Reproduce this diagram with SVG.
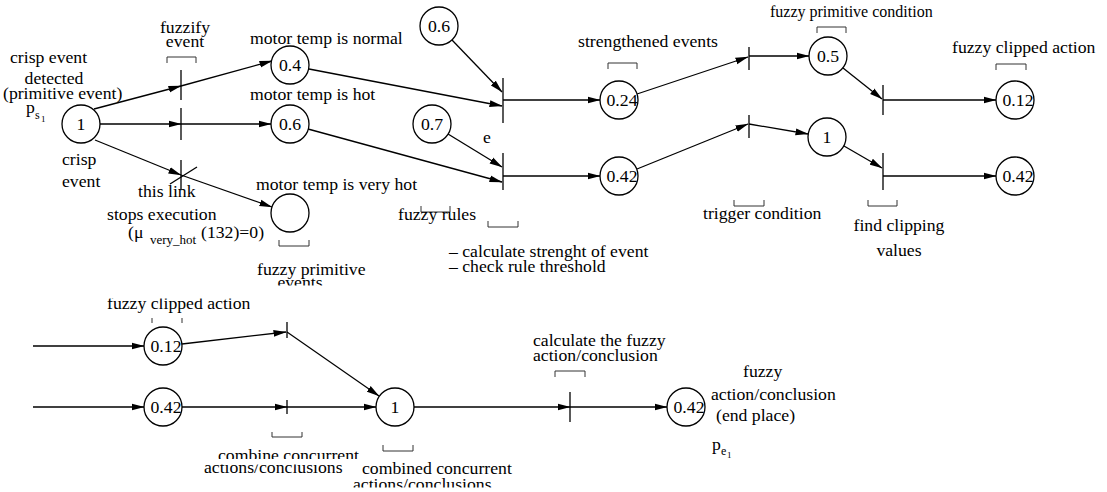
<svg xmlns="http://www.w3.org/2000/svg" width="1107" height="492" viewBox="0 0 1107 492">
  <style>
    text { font-family: "Liberation Serif", "DejaVu Serif", serif; font-size: 17.7px; fill: #000; }
    .c { text-anchor: middle; }
    .sub { font-size: 12px; }
    .sub2 { font-size: 9px; }
    .place { fill: #fff; stroke: #000; stroke-width: 1.3; }
    .bar { stroke: #000; stroke-width: 1.3; fill: none; }
    .ln { stroke: #000; stroke-width: 1.3; fill: none; }
    .arr { marker-end: url(#ah); }
    .br { stroke: #333; stroke-width: 1; fill: none; }
  </style>
  <defs>
    <marker id="ah" markerWidth="13" markerHeight="8" refX="12.5" refY="4" orient="auto" markerUnits="userSpaceOnUse">
      <path d="M0,0.6 L13,4 L0,7.4 z" fill="#000"/>
    </marker>
    <clipPath id="cutEvents"><rect x="0" y="0" width="1107" height="285.5"/></clipPath>
    <clipPath id="cutClipped"><rect x="0" y="298.5" width="250" height="100"/></clipPath>
    <clipPath id="cutCombine"><rect x="0" y="400" width="1107" height="59"/></clipPath>
    <clipPath id="cutActions"><rect x="0" y="464.5" width="1107" height="30"/></clipPath>
    <clipPath id="cutActions2"><rect x="0" y="440" width="1107" height="47.5"/></clipPath>
  </defs>
  <rect width="1107" height="492" fill="#fff"/>

  <!-- connectors -->
  <g id="connectors">
    <!-- crisp event fuzzification -->
    <path class="ln arr" d="M94,109 L181,86"/>
    <path class="ln arr" d="M181,86 L272,61"/>
    <path class="ln arr" d="M100,124 L181,124"/>
    <path class="ln arr" d="M181,124 L271,124"/>
    <path class="ln arr" d="M95,140 L181,175"/>
    <path class="ln arr" d="M181,175 L272,207"/>
    <!-- fuzzy rules -->
    <path class="ln arr" d="M309,69 L502,106"/>
    <path class="ln arr" d="M452,40 L502,92"/>
    <path class="ln arr" d="M503,100 L600,100"/>
    <path class="ln arr" d="M308,129 L502,182"/>
    <path class="ln arr" d="M448,134 L502,167"/>
    <path class="ln arr" d="M503,176 L600,176"/>
    <!-- trigger conditions -->
    <path class="ln arr" d="M637,94 L748,57"/>
    <path class="ln arr" d="M749,56 L809,56"/>
    <path class="ln arr" d="M637,169 L748,124"/>
    <path class="ln arr" d="M749,124 L808,134"/>
    <!-- clipping -->
    <path class="ln arr" d="M843,68 L882,99"/>
    <path class="ln arr" d="M883,100 L996,100"/>
    <path class="ln arr" d="M844,146 L882,168"/>
    <path class="ln arr" d="M883,176 L996,176"/>
    <!-- combination of concurrent actions -->
    <path class="ln arr" d="M33,346 L144,346"/>
    <path class="ln arr" d="M33,407 L144,407"/>
    <path class="ln arr" d="M182,344 L286,332"/>
    <path class="ln arr" d="M287,332 L379,396"/>
    <path class="ln arr" d="M182,407 L287,407"/>
    <path class="ln arr" d="M287,407 L376,407"/>
    <path class="ln arr" d="M414,407 L570,407"/>
    <path class="ln arr" d="M570,407 L667,407"/>
  </g>

  <!-- transitions -->
  <g id="t-fuzzify-normal"><line class="bar" x1="181" y1="70" x2="181" y2="100"/></g>
  <g id="t-fuzzify-hot"><line class="bar" x1="181" y1="108" x2="181" y2="140"/></g>
  <g id="t-fuzzify-veryhot">
    <line class="bar" x1="181" y1="160" x2="181" y2="190"/>
    <line class="bar" x1="170" y1="184" x2="197" y2="167"/>
  </g>
  <g id="t-rule-1"><line class="bar" x1="503" y1="78" x2="503" y2="123"/></g>
  <g id="t-rule-2"><line class="bar" x1="503" y1="153" x2="503" y2="190"/></g>
  <g id="t-trigger-1"><line class="bar" x1="749" y1="47" x2="749" y2="70"/></g>
  <g id="t-trigger-2"><line class="bar" x1="749" y1="115" x2="749" y2="138"/></g>
  <g id="t-clip-1"><line class="bar" x1="883" y1="85" x2="883" y2="115"/></g>
  <g id="t-clip-2"><line class="bar" x1="883" y1="153" x2="883" y2="190"/></g>
  <g id="t-combine-1"><line class="bar" x1="287" y1="322" x2="287" y2="338"/></g>
  <g id="t-combine-2"><line class="bar" x1="287" y1="400" x2="287" y2="414"/></g>
  <g id="t-conclude"><line class="bar" x1="570" y1="392" x2="570" y2="422"/></g>

  <!-- places -->
  <g id="p-start"><circle class="place" cx="81" cy="124" r="19"/><text class="c" x="81" y="130">1</text></g>
  <g id="p-normal"><circle class="place" cx="290" cy="65" r="19"/><text class="c" x="290" y="71">0.4</text></g>
  <g id="p-hot"><circle class="place" cx="290" cy="124" r="19"/><text class="c" x="290" y="130">0.6</text></g>
  <g id="p-veryhot"><circle class="place" cx="290" cy="213" r="19"/></g>
  <g id="p-rule-06"><circle class="place" cx="439" cy="26" r="19"/><text class="c" x="439" y="32">0.6</text></g>
  <g id="p-rule-07"><circle class="place" cx="432" cy="124" r="19"/><text class="c" x="432" y="130">0.7</text></g>
  <g id="p-strong-1"><circle class="place" cx="619" cy="100" r="19"/><text class="c" x="622" y="106">0.24</text></g>
  <g id="p-strong-2"><circle class="place" cx="619" cy="176" r="19"/><text class="c" x="622" y="182">0.42</text></g>
  <g id="p-cond-05"><circle class="place" cx="828" cy="56" r="19"/><text class="c" x="828" y="62">0.5</text></g>
  <g id="p-cond-1"><circle class="place" cx="827" cy="137" r="19"/><text class="c" x="827" y="143">1</text></g>
  <g id="p-action-1"><circle class="place" cx="1015" cy="100" r="19"/><text class="c" x="1018" y="106">0.12</text></g>
  <g id="p-action-2"><circle class="place" cx="1015" cy="176" r="19"/><text class="c" x="1018" y="182">0.42</text></g>
  <g id="p-in-1"><circle class="place" cx="163" cy="346" r="19"/><text class="c" x="166" y="352">0.12</text></g>
  <g id="p-in-2"><circle class="place" cx="163" cy="407" r="19"/><text class="c" x="166" y="413">0.42</text></g>
  <g id="p-combined"><circle class="place" cx="395" cy="407" r="19"/><text class="c" x="395" y="413">1</text></g>
  <g id="p-end"><circle class="place" cx="686" cy="407" r="19"/><text class="c" x="689" y="413">0.42</text></g>

  <!-- brackets -->
  <g id="brackets">
    <path class="br" d="M167,63 V57 H196 V63"/>
    <path class="br" d="M608,69 V63 H637 V69"/>
    <path class="br" d="M817,33 V27 H846 V33"/>
    <path class="br" d="M996,70 V64 H1026 V70"/>
    <path class="br" d="M279,240 V246 H309 V240"/>
    <path class="br" d="M421,206 V212 H450 V206"/>
    <path class="br" d="M488,221 V227 H518 V221"/>
    <path class="br" d="M734,200 V206 H764 V200"/>
    <path class="br" d="M868,200 V206 H897 V200"/>
    <path class="br" d="M152,318 V323 M182,318 V323"/>
    <path class="br" d="M272,432 V437 H302 V432"/>
    <path class="br" d="M383,445 V451 H413 V445"/>
    <path class="br" d="M555,377 V371 H585 V377"/>
  </g>

  <!-- labels -->
  <g id="labels">
    <text x="10" y="63">crisp event</text>
    <text class="c" x="54" y="84">detected</text>
    <text x="3" y="99">(primitive event)</text>
    <text x="26" y="113">p</text><text class="sub" x="35" y="119">s</text><text class="sub2" x="41" y="122">1</text>
    <text x="62" y="165">crisp</text>
    <text x="62" y="187">event</text>
    <text class="c" x="185" y="33">fuzzify</text>
    <text class="c" x="185" y="47">event</text>
    <text x="250" y="44">motor temp is normal</text>
    <text x="250" y="100">motor temp is hot</text>
    <text x="256" y="190">motor temp is very hot</text>
    <text x="138" y="197">this link</text>
    <text x="107" y="220">stops execution</text>
    <text x="128" y="238">(μ</text><text class="sub" x="150" y="244" style="font-size:13px">very_hot</text><text x="201" y="238">(132)=0)</text>
    <text x="257" y="275">fuzzy primitive</text>
    <text class="c" x="300" y="288" clip-path="url(#cutEvents)">events</text>
    <text x="483" y="143">e</text>
    <text x="398" y="220">fuzzy rules</text>
    <text x="449" y="257">– calculate strenght of event</text>
    <text x="449" y="272">– check rule threshold</text>
    <text x="578" y="47">strengthened events</text>
    <text x="770" y="17" style="font-size:16px">fuzzy primitive condition</text>
    <text x="952" y="53">fuzzy clipped action</text>
    <text x="703" y="219">trigger condition</text>
    <text class="c" x="899" y="231">find clipping</text>
    <text class="c" x="899" y="256">values</text>
    <text x="107" y="309" clip-path="url(#cutClipped)">fuzzy clipped action</text>
    <text x="218" y="461" clip-path="url(#cutCombine)">combine concurrent</text>
    <text x="204" y="473" clip-path="url(#cutActions)">actions/conclusions</text>
    <text x="362" y="474">combined concurrent</text>
    <text x="353" y="490" clip-path="url(#cutActions2)">actions/conclusions</text>
    <text x="533" y="346">calculate the fuzzy</text>
    <text x="533" y="361">action/conclusion</text>
    <text x="743" y="377">fuzzy</text>
    <text x="711" y="400">action/conclusion</text>
    <text x="716" y="421">(end place)</text>
    <text x="712" y="450">p</text><text class="sub" x="721" y="455">e</text><text class="sub2" x="727" y="458">1</text>
  </g>
</svg>
